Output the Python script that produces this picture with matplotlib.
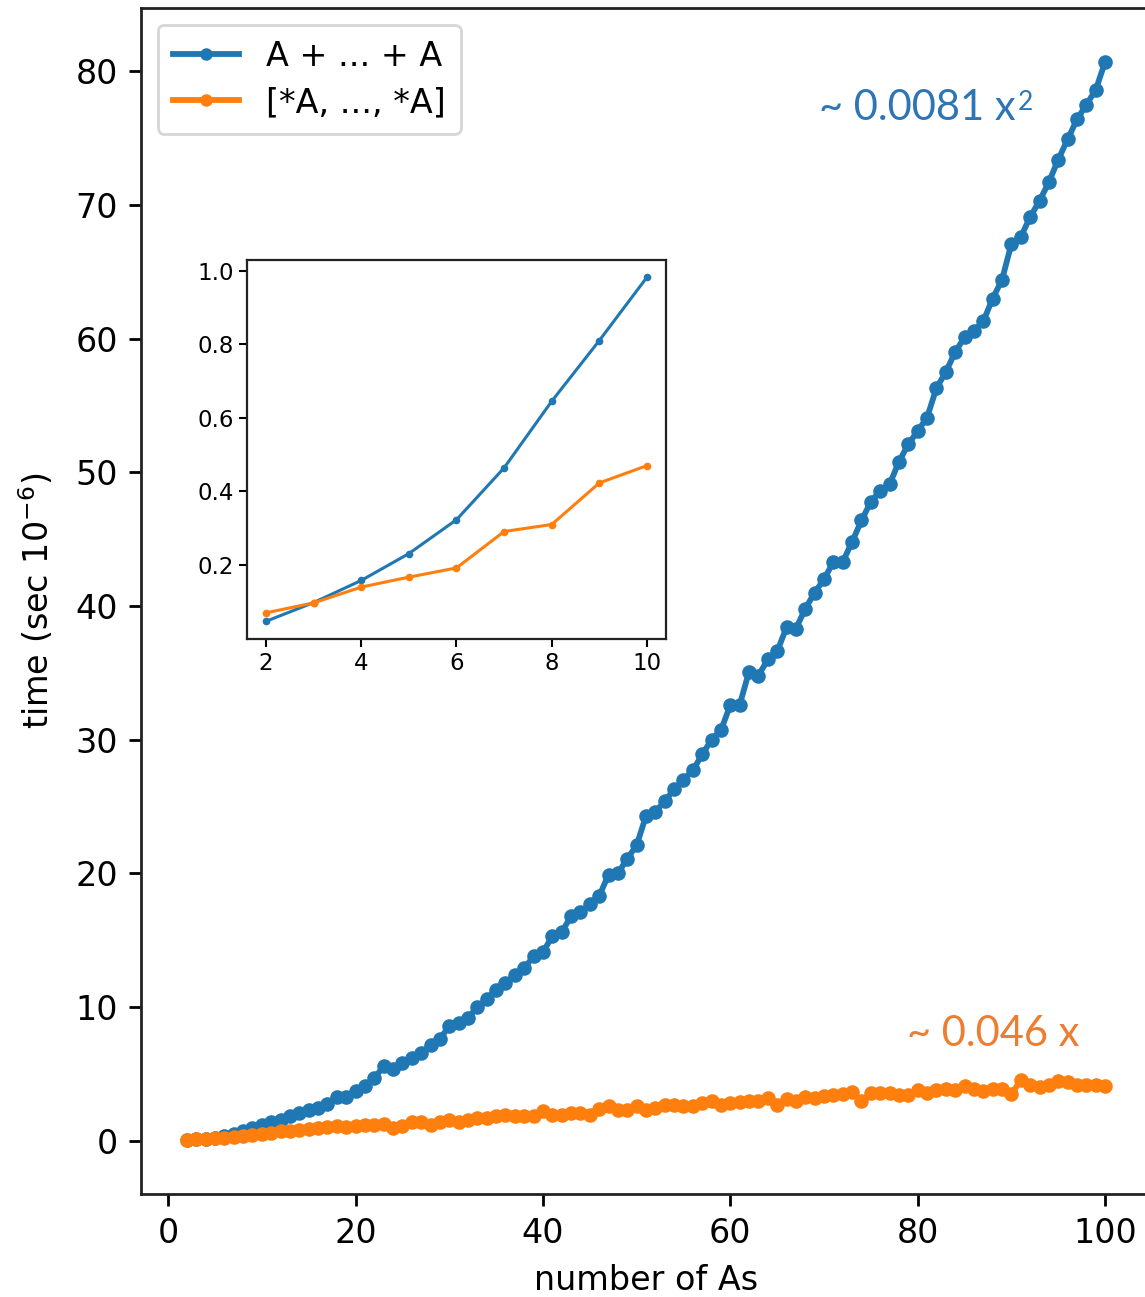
import matplotlib
matplotlib.use("Agg")
import matplotlib.pyplot as plt
import numpy as np

# ---------------- data ----------------
n_values = list(range(2, 101))

plus_times = [
    0.05, 0.10, 0.16, 0.23, 0.33, 0.50, 0.72, 0.95, 1.15,          # 2-10
    1.37, 1.57, 1.82, 2.07, 2.32, 2.44, 2.77, 3.27, 3.31, 3.69,    # 11-20
    4.06, 4.69, 5.56, 5.35, 5.80, 6.20, 6.56, 7.20, 7.60, 8.60,    # 21-30
    8.80, 9.20, 10.0, 10.6, 11.3, 11.8, 12.4, 12.9, 13.8, 14.1,    # 31-40
    15.3, 15.6, 16.8, 17.1, 17.7, 18.3, 19.9, 20.0, 21.1, 22.1,    # 41-50
    24.3, 24.6, 25.4, 26.3, 27.0, 27.7, 28.9, 30.0, 30.7, 32.6,    # 51-60
    32.6, 35.1, 34.8, 36.0, 36.6, 38.4, 38.3, 39.8, 41.0, 42.0,    # 61-70
    43.3, 43.3, 44.8, 46.4, 47.8, 48.6, 49.1, 50.8, 52.1, 53.1,    # 71-80
    54.1, 56.3, 57.5, 59.0, 60.1, 60.6, 61.3, 63.0, 64.4, 67.1,    # 81-90
    67.6, 69.1, 70.3, 71.7, 73.4, 74.9, 76.4, 77.5, 78.6, 80.7,    # 91-100
]

unpack_times = [
    0.07, 0.10, 0.14, 0.17, 0.20, 0.29, 0.32, 0.42, 0.50,          # 2-10
    0.60, 0.70, 0.72, 0.77, 0.85, 0.95, 1.00, 1.07, 1.05, 1.07,    # 11-20
    1.15, 1.20, 1.22, 0.98, 1.07, 1.37, 1.37, 1.20, 1.44, 1.57,    # 21-30
    1.44, 1.57, 1.70, 1.70, 1.87, 1.94, 1.87, 1.87, 1.82, 2.19,    # 31-40
    1.94, 1.94, 2.07, 2.07, 1.94, 2.37, 2.57, 2.32, 2.32, 2.57,    # 41-50
    2.32, 2.44, 2.69, 2.69, 2.62, 2.57, 2.82, 2.94, 2.69, 2.82,    # 51-60
    2.90, 2.94, 2.96, 3.19, 2.69, 3.12, 2.94, 3.27, 3.19, 3.37,    # 61-70
    3.44, 3.52, 3.62, 2.94, 3.57, 3.57, 3.57, 3.44, 3.44, 3.77,    # 71-80
    3.57, 3.82, 3.87, 3.82, 4.06, 3.87, 3.69, 3.87, 3.87, 3.52,    # 81-90
    4.51, 4.19, 4.02, 4.19, 4.44, 4.36, 4.19, 4.19, 4.19, 4.11,    # 91-100
]

inset_n = [2, 3, 4, 5, 6, 7, 8, 9, 10]
inset_plus = [0.047, 0.098, 0.158, 0.231, 0.323, 0.464, 0.645, 0.810, 0.982]
inset_unpack = [0.070, 0.097, 0.140, 0.167, 0.192, 0.291, 0.310, 0.423, 0.470]

series_labels = ["A + ... + A", "[*A, ..., *A]"]
x_ticks = [0, 20, 40, 60, 80, 100]
y_ticks = [0, 10, 20, 30, 40, 50, 60, 70, 80]
inset_x_ticks = [2, 4, 6, 8, 10]
inset_y_ticks = [0.2, 0.4, 0.6, 0.8, 1.0]

BLUE = "#1f77b4"
ORANGE = "#ff7f0e"
H = 1297

# ---------------- figure ----------------
fig = plt.figure(figsize=(11.45, 12.97), dpi=100)

ax = fig.add_axes([141 / 1145, 1 - 1194 / H, 1010 / 1145, 1186 / H])
ax.plot(n_values, plus_times, '-o', color=BLUE, lw=4.2, ms=10.5, mew=0,
        label=series_labels[0])
ax.plot(n_values, unpack_times, '-o', color=ORANGE, lw=4.2, ms=10.5, mew=0,
        label=series_labels[1])
ax.set_xticks(x_ticks)
ax.set_yticks(y_ticks)
ax.tick_params(labelsize=24, length=8.5, width=2.0, pad=8)
for s in ax.spines.values():
    s.set_linewidth(2.0)
    s.set_color("#222222")
ax.spines["right"].set_visible(False)
ax.set_xlabel("number of As", fontsize=24, labelpad=10)
ax.set_ylabel("time (sec $10^{-6}$)", fontsize=24, labelpad=14)

leg = ax.legend(loc="upper left", fontsize=24, handlelength=2.0,
                borderpad=0.45, labelspacing=0.4, framealpha=0.8,
                edgecolor="#cccccc", fancybox=True, handletextpad=0.8)
leg.get_frame().set_linewidth(2.0)
for h in leg.legend_handles:
    h.set_markersize(9)

fam = ["Lato", "DejaVu Sans"]
t1 = fig.text(819, H - 120, "~ 0.0081 x", transform=None, fontsize=30,
              color="#2E75B6", family=fam, va="baseline", ha="left")
fig.texts[-1]
ax.annotate("2", xy=(1, 0), xycoords=t1, xytext=(1.5, 12),
            textcoords="offset points", fontsize=19, color="#2E75B6",
            family=fam, va="baseline", ha="left", annotation_clip=False)
fig.text(907, H - 1046, "~ 0.046 x", transform=None, fontsize=30,
         color="#ED7D31", family=fam, va="baseline", ha="left")

# ---------------- inset ----------------
axin = fig.add_axes([247 / 1145, 1 - 638.5 / H, 419 / 1145, 378.5 / H])
axin.plot(inset_n, inset_plus, '-o', color=BLUE, lw=2.2, ms=5.5, mew=0)
axin.plot(inset_n, inset_unpack, '-o', color=ORANGE, lw=2.2, ms=5.5, mew=0)
axin.set_xticks(inset_x_ticks)
axin.set_yticks(inset_y_ticks)
axin.tick_params(labelsize=16.5, length=5.5, width=1.5, pad=4)
for s in axin.spines.values():
    s.set_linewidth(1.6)
    s.set_color("#222222")

fig.savefig("out.png", dpi=100)
